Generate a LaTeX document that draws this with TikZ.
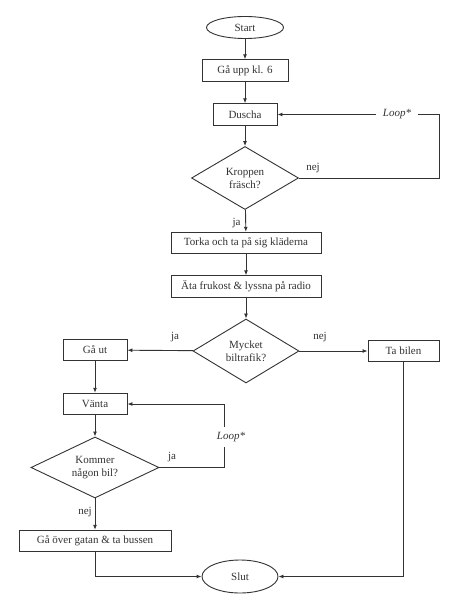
\documentclass[tikz,border=0pt]{standalone}
\usepackage{fontspec}
\setmainfont{Liberation Serif}
\usetikzlibrary{shapes.geometric,arrows.meta}
\definecolor{ink}{HTML}{333333}
\tikzset{
  every node/.style={text=ink, font=\fontsize{11}{13}\selectfont},
  proc/.style={draw=ink, line width=0.9pt, rectangle, inner sep=0pt, minimum height=21.5pt},
  term/.style={draw=ink, line width=0.9pt, ellipse, inner sep=0pt},
  dec/.style={draw=ink, line width=0.9pt, diamond, aspect=1.7, inner sep=0pt, align=center},
  arr/.style={draw=ink, line width=0.9pt, -{Latex[length=5pt,width=4pt]}},
  ln/.style={draw=ink, line width=0.9pt},
  lbl/.style={inner sep=1pt},
  looplbl/.style={fill=white, inner sep=2pt, font=\fontsize{11}{13}\selectfont\itshape}
}
\begin{document}
\begin{tikzpicture}[x=1pt,y=-1pt]
\useasboundingbox[fill=white] (0,0) rectangle (456,599);
% nodes
\node[term, minimum width=77pt, minimum height=22pt] (start) at (245,27.5) {Start};
\node[proc, minimum width=86pt] (upp) at (245,70.5) {Gå upp kl. 6};
\node[proc, minimum width=64pt] (duscha) at (245,114.5) {Duscha};
\node[dec, minimum width=107pt, minimum height=63pt] (kropp) at (245,178) {Kroppen\\fräsch?};
\node[proc, minimum width=150pt] (torka) at (246,243) {Torka och ta på sig kläderna};
\node[proc, minimum width=150pt] (ata) at (246,286.5) {Äta frukost \& lyssna på radio};
\node[dec, minimum width=106pt, minimum height=64pt] (mycket) at (246,351) {Mycket\\biltrafik?};
\node[proc, minimum width=64pt] (gaut) at (95,350) {Gå ut};
\node[proc, minimum width=71pt] (bil) at (403.5,351) {Ta bilen};
\node[proc, minimum width=64pt] (vanta) at (95,404) {Vänta};
\node[dec, minimum width=128pt, minimum height=61pt] (kommer) at (95,467.5) {Kommer\\någon bil?};
\node[proc, minimum width=152pt] (gaover) at (95,541) {Gå över gatan \& ta bussen};
\node[term, minimum width=76pt, minimum height=33pt] (slut) at (240,576.5) {Slut};
% helper coordinates
\coordinate (r1) at (439,178);
\coordinate (r2) at (224,467.5);
\coordinate (r3) at (403.5,576.5);
\coordinate (r4) at (95,576.5);
% connectors
\draw[arr] (start) -- (upp);
\draw[arr] (upp) -- (duscha);
\draw[arr] (duscha) -- (kropp);
\draw[arr] (kropp) -- (torka);
\draw[arr] (torka) -- (ata);
\draw[arr] (ata) -- (mycket);
\draw[arr] (mycket) -- (gaut);
\draw[arr] (mycket) -- (bil);
\draw[arr] (gaut) -- (vanta);
\draw[arr] (vanta) -- (kommer);
\draw[arr] (kommer) -- (gaover);
\draw[arr] (kropp.east) -- (r1) |- (duscha.east);
\draw[arr] (kommer.east) -- (r2) |- (vanta.east);
\draw[arr] (bil.south) -- (r3) -- (slut.east);
\draw[arr] (gaover.south) -- (r4) -- (slut.west);
% labels
\node[looplbl, inner xsep=7pt] (loop1) at (397,114.5) {Loop*};
\node[looplbl, inner xsep=1pt, inner ysep=5pt] (loop2) at (231,437) {Loop*};
\node[lbl] (l1) at (313,168) {nej};
\node[lbl] (l2) at (236.5,223) {ja};
\node[lbl] (l3) at (175,337) {ja};
\node[lbl] (l4) at (320,337) {nej};
\node[lbl] (l5) at (172,457) {ja};
\node[lbl] (l6) at (85,512) {nej};
\end{tikzpicture}
\end{document}
